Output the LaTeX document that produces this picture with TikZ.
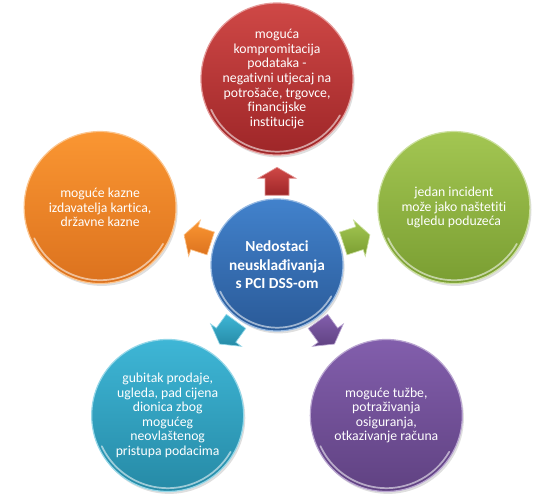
\documentclass[tikz,border=0pt]{standalone}
\usepackage{fontspec}
\setmainfont{Carlito}[Ligatures=NoCommon]
\usetikzlibrary{calc,shadows}

% colour pairs: lighter top, darker bottom
\definecolor{redT}{RGB}{207,72,70}
\definecolor{redB}{RGB}{158,38,40}
\definecolor{grnT}{RGB}{163,198,82}
\definecolor{grnB}{RGB}{122,158,50}
\definecolor{orgT}{RGB}{250,150,50}
\definecolor{orgB}{RGB}{220,114,30}
\definecolor{bluT}{RGB}{66,130,204}
\definecolor{bluB}{RGB}{42,90,152}
\definecolor{cyaT}{RGB}{62,182,214}
\definecolor{cyaB}{RGB}{38,138,166}
\definecolor{purT}{RGB}{130,94,172}
\definecolor{purB}{RGB}{96,66,130}

\tikzset{
  ball/.style 2 args={circle, inner sep=0pt, minimum size=114pt,
    top color=#1, bottom color=#2, draw=#1!55!white, line width=0.9pt,
    text=white, align=center, font=\fontsize{10.3}{10.9}\selectfont,
    drop shadow={opacity=0.25, shadow xshift=1.2pt, shadow yshift=-1.8pt}},
  core/.style={ball={bluT}{bluB}, minimum size=99pt,
    font=\fontsize{11.5}{13.9}\selectfont\bfseries},
  gloss/.style={white, opacity=0.55, line width=1.3pt, line cap=round},
  pics/blockarrow/.style 2 args={code={
    \path[top color=#1, bottom color=#2, draw=#1!55!white, line width=0.5pt]
      (-12,-14) -- (12,-14) -- (12,3) -- (19,3) -- (0,14) -- (-19,3) -- (-12,3) -- cycle;
  }}
}

\begin{document}
\begin{tikzpicture}[x=0.75pt,y=0.75pt]
  \useasboundingbox (0,0) rectangle (546,497);
  \coordinate (c) at (277,232);

  % outer circles on a pentagon around the centre
  \node[ball={redT}{redB}] (risk) at ($(c)+(90:186)$)
    {moguća\\kompromitacija\\podataka -\\negativni utjecaj na\\potrošače, trgovce,\\financijske\\institucije};
  \node[ball={grnT}{grnB}] (rep) at ($(c)+(18:186)$)
    {jedan incident\\može jako naštetiti\\ugledu poduzeća};
  \node[ball={orgT}{orgB}] (fine) at ($(c)+(162:186)$)
    {moguće kazne\\izdavatelja kartica,\\državne kazne};
  \node[ball={cyaT}{cyaB}] (loss) at ($(c)+(234:186)$)
    {gubitak prodaje,\\ugleda, pad cijena\\dionica zbog\\mogućeg\\neovlaštenog\\pristupa podacima};
  \node[ball={purT}{purB}] (suit) at ($(c)+(306:186)$)
    {moguće tužbe,\\potraživanja\\osiguranja,\\otkazivanje računa};

  % centre circle
  \node[core] (mid) at (c) {Nedostaci\\neusklađivanja\\s PCI DSS-om};

  % glossy rims along the lower edge
  \foreach \n in {risk,rep,fine,loss,suit}
    \draw[gloss] ([shift={(205:54.5pt)}]\n.center) arc[start angle=205, end angle=330, radius=54.5pt];
  \draw[gloss] ([shift={(205:47pt)}]mid.center) arc[start angle=205, end angle=330, radius=47pt];

  % block arrows pointing outwards
  \pic[rotate=0]    at ($(mid)!0.45!(risk)$) {blockarrow={redT}{redB}};
  \pic[rotate=-72]  at ($(mid)!0.45!(rep)$)  {blockarrow={grnT}{grnB}};
  \pic[rotate=72]   at ($(mid)!0.45!(fine)$) {blockarrow={orgT}{orgB}};
  \pic[rotate=144]  at ($(mid)!0.45!(loss)$) {blockarrow={cyaT}{cyaB}};
  \pic[rotate=-144] at ($(mid)!0.45!(suit)$) {blockarrow={purT}{purB}};
\end{tikzpicture}
\end{document}
